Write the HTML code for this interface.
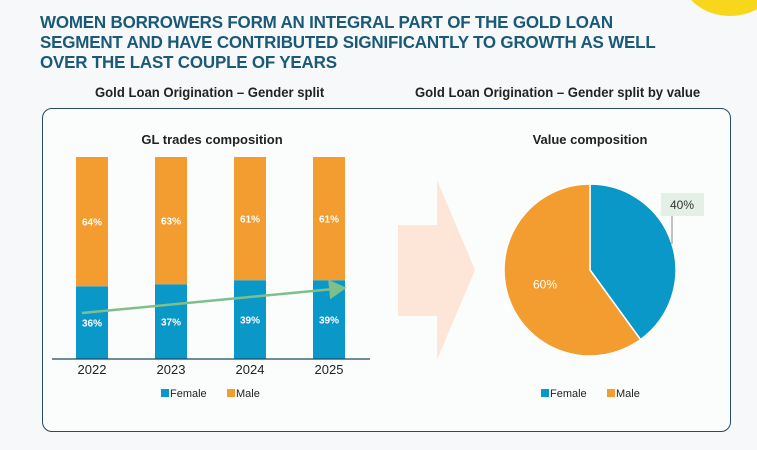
<!DOCTYPE html>
<html><head><meta charset="utf-8"><style>
body{margin:0;width:757px;height:450px;overflow:hidden;background:#f7f8f9;font-family:"Liberation Sans",sans-serif;position:relative}
.t{position:absolute;left:40px;top:12px;color:#1a5a78;font-weight:bold;font-size:17.5px;line-height:20px;letter-spacing:-0.2px;transform:scaleX(0.97);transform-origin:left}
.st{position:absolute;font-weight:bold;font-size:13.5px;color:#222;transform:scaleX(0.97);transform-origin:left}
</style></head><body>
<div style="position:absolute;left:680px;top:-70px;width:100px;height:86px;border-radius:50%;background:#f8d61c"></div>
<div class="t">WOMEN BORROWERS FORM AN INTEGRAL PART OF THE GOLD LOAN<br>SEGMENT AND HAVE CONTRIBUTED SIGNIFICANTLY TO GROWTH AS WELL<br>OVER THE LAST COUPLE OF YEARS</div>
<div class="st" style="left:95px;top:85px">Gold Loan Origination – Gender split</div>
<div class="st" style="left:415px;top:85px">Gold Loan Origination – Gender split by value</div>
<div style="position:absolute;left:42px;top:108px;width:687px;height:322px;border:1.5px solid #2a4a60;border-radius:10px;background:#fbfcfc"></div>
<svg id="s" width="757" height="450" style="position:absolute;left:0;top:0">
<defs><marker id="ah" markerWidth="8" markerHeight="8" refX="6" refY="4" orient="auto"><path d="M0,0L7,4L0,8z" fill="#7fbf8c"/></marker></defs>
<text x="212" y="144" text-anchor="middle" font-weight="bold" font-size="13" fill="#222">GL trades composition</text>
<text x="590" y="144" text-anchor="middle" font-weight="bold" font-size="13" fill="#222">Value composition</text>
<path d="M398,225H437V180L475,270L437,360V316H398Z" fill="#fde6d8"/>
</svg>
<script>
const years=['2022','2023','2024','2025'];
const female=[36,37,39,39];
const male=[64,63,61,61];
const pieLabels=['Female','Male'];
const pieValues=[40,60];
const NS='http://www.w3.org/2000/svg',s=document.getElementById('s');
function el(t,a,txt){const e=document.createElementNS(NS,t);for(const k in a)e.setAttribute(k,a[k]);if(txt!=null)e.textContent=txt;s.appendChild(e);return e;}
const y0=359,H=202;const ys=v=>v/100*H;const xs=i=>76+i*79;
years.forEach((yr,i)=>{const x=xs(i),fh=ys(female[i]),mh=ys(male[i]);
let b=el('rect',{x:x,y:y0-fh,width:32,height:fh,fill:'#0a98c8'});


let m=el('rect',{x:x,y:y0-fh-mh,width:32,height:mh,fill:'#f39c2f'});


let t1=el('text',{x:x+16,y:y0-fh/2+4,'text-anchor':'middle','font-size':10,'font-weight':'bold',fill:'#fff'},female[i]+'%');


let t2=el('text',{x:x+16,y:y0-fh-mh/2+4,'text-anchor':'middle','font-size':10,'font-weight':'bold',fill:'#fff'},male[i]+'%');


let t3=el('text',{x:x+16,y:y0+15,'text-anchor':'middle','font-size':13,fill:'#222'},yr);


});
let ax=el('line',{x1:52,x2:370,y1:y0,y2:y0,stroke:'#1a4a66','stroke-width':1.2});


let tr=el('line',{x1:82,y1:313,x2:344,y2:288,stroke:'#7fbf8c','stroke-width':2.5,'marker-end':'url(#ah)'});


function legend(x,y,pre){[['Female','#0a98c8'],['Male','#f39c2f']].forEach((d,i)=>{const ox=x+i*66;
let r=el('rect',{x:ox,y:y-8,width:8,height:8,fill:d[1]});


let t=el('text',{x:ox+9,y:y,'font-size':11,fill:'#222'},d[0]);

});}
legend(161,397,'bar');legend(541,397,'pie');
const cx=590,cy=270,R=86;let a0=-Math.PI/2;const cols=['#0a98c8','#f39c2f'];const tot=pieValues.reduce((a,b)=>a+b,0);
pieValues.forEach((v,i)=>{const a1=a0+v/tot*2*Math.PI;const large=(a1-a0)>Math.PI?1:0;
let p=el('path',{d:`M${cx},${cy}L${cx+R*Math.cos(a0)},${cy+R*Math.sin(a0)}A${R},${R} 0 ${large} 1 ${cx+R*Math.cos(a1)},${cy+R*Math.sin(a1)}Z`,fill:cols[i],stroke:'#fff','stroke-width':1.5});


if(i==1){const am=(a0+a1)/2;let t=el('text',{x:cx+R*0.55*Math.cos(am),y:cy+R*0.55*Math.sin(am)+4,'text-anchor':'middle','font-size':12,fill:'#fff'},v+'%');

}
a0=a1;});
let lb=el('rect',{x:661,y:193,width:43,height:23,fill:'#e4efe6'});


let ll=el('line',{x1:672,y1:216,x2:672,y2:244,stroke:'#888','stroke-width':1});


let lt=el('text',{x:682,y:209,'text-anchor':'middle','font-size':12,fill:'#333'},pieValues[0]+'%');


</script>
</body></html>
